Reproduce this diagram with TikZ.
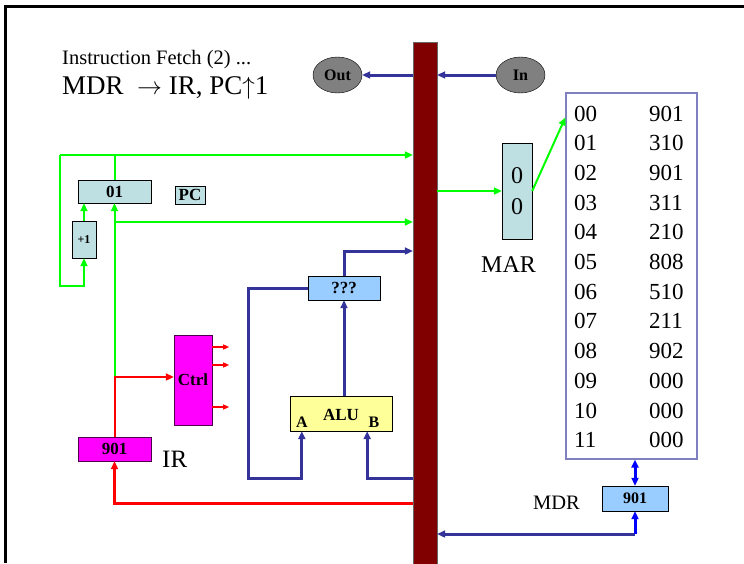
\documentclass[tikz,border=0pt]{standalone}
\usepackage{fontspec}
\setmainfont{Liberation Serif}
\usetikzlibrary{arrows.meta, positioning, calc, shapes.geometric}
\definecolor{busred}{RGB}{128, 0, 0}
\definecolor{regcyan}{RGB}{190, 224, 226}
\definecolor{regblue}{RGB}{153, 204, 255}
\definecolor{aluyellow}{RGB}{255, 255, 153}
\definecolor{navy}{RGB}{51, 51, 153}
\definecolor{memborder}{RGB}{128, 128, 192}
\definecolor{ctrlpink}{RGB}{255, 0, 255}

\begin{document}
\begin{tikzpicture}[
    x=1pt, y=-1pt,
    >={Triangle[length=8pt, width=7pt]},
    reg/.style={rectangle, draw=black, fill=regcyan, inner sep=0pt, font=\bfseries\fontsize{17}{17}\selectfont},
    bluereg/.style={reg, fill=regblue},
    ctrlbox/.style={reg, fill=ctrlpink, draw=black!70!ctrlpink},
    alubox/.style={rectangle, draw=black, fill=aluyellow, minimum width=102pt, minimum height=35pt},
    io/.style={ellipse, draw=black, fill=gray, minimum width=49pt, minimum height=36pt, inner sep=0pt, font=\bfseries\fontsize{16}{16}\selectfont},
    busbar/.style={rectangle, draw=black!60, fill=busred, minimum width=24pt, minimum height=522pt},
    bigtext/.style={inner sep=0pt, anchor=base west, font=\fontsize{24}{24}\selectfont},
    memtext/.style={inner sep=0pt, anchor=base west, font=\fontsize{23}{23}\selectfont},
    bold/.style={inner sep=0pt, anchor=base, font=\bfseries\fontsize{17}{17}\selectfont},
    gline/.style={draw=green, line width=2pt},
    rline/.style={draw=red, line width=2pt},
    nline/.style={draw=navy, line width=3pt},
    bline/.style={draw=blue, line width=3pt}
]
    \useasboundingbox (0,0) rectangle (744,563);

    % frame
    \draw[line width=3pt] (5.5,563) -- (5.5,6.5) -- (744,6.5);

    % title
    \node[bigtext, font=\fontsize{20.5}{20.5}\selectfont] (title) at (62,64) {Instruction Fetch (2) ...};
    \node[bigtext, font=\fontsize{27}{27}\selectfont] (step) at (62,94) {MDR \ $\rightarrow$ IR, PC$\uparrow$1};

    % bus and i/o
    \node[busbar] (bus) at (425,303) {};
    \node[io] (out) at (337.5,75) {Out};
    \node[io] (in) at (520.5,75) {In};

    % PC side
    \node[reg, minimum width=73pt, minimum height=23pt] (pc) at (114.5,191.5) {01};
    \node[reg, minimum width=30pt, minimum height=18pt] (pclabel) at (190,195) {PC};
    \node[reg, minimum width=24pt, minimum height=37pt, font=\bfseries\fontsize{12}{12}\selectfont] (plus) at (84,239.5) {+1};

    % IR and control
    \node[ctrlbox, minimum width=73pt, minimum height=24pt] (ir) at (114.5,449) {901};
    \node[bigtext, font=\fontsize{25}{25}\selectfont] (irlabel) at (162,467) {IR};
    \node[ctrlbox, minimum width=38pt, minimum height=90pt] (ctrl) at (193,380) {Ctrl};

    % ALU
    \node[bluereg, minimum width=72pt, minimum height=24pt] (qqq) at (344,288) {???};
    \node[alubox] (alu) at (341,413.5) {};
    \node[bold] (alutext) at (341,420) {ALU};
    \node[bold, font=\bfseries\fontsize{16}{16}\selectfont] (alua) at (302,427) {A};
    \node[bold, font=\bfseries\fontsize{16}{16}\selectfont] (alub) at (374,427) {B};

    % MAR, memory, MDR
    \node[reg, minimum width=30pt, minimum height=96pt, font=\fontsize{24}{24}\selectfont, align=center] (mar) at (517,191) {0\\[7pt]0};
    \node[bigtext] (marlabel) at (481,272) {MAR};
    \node[rectangle, draw=memborder, line width=1.2pt, minimum width=131pt, minimum height=366pt] (mem) at (631.5,276) {};
    \foreach \addr/\val [count=\i from 0] in {00/901, 01/310, 02/901, 03/311, 04/210, 05/808, 06/510, 07/211, 08/902, 09/000, 10/000, 11/000}
    {
        \node[memtext] (a\i) at (574,121+29.7*\i) {\addr};
        \node[memtext] (v\i) at (649,121+29.7*\i) {\val};
    }
    \node[bluereg, minimum width=66pt, minimum height=25pt, font=\bfseries\fontsize{16}{16}\selectfont] (mdr) at (635,498.5) {901};
    \node[bigtext, font=\fontsize{20.5}{20.5}\selectfont] (mdrlabel) at (533,509) {MDR};

    % helper points
    \coordinate (gtop) at (60,155);
    \coordinate (gloop) at (60,286);
    \coordinate (gmid) at (114.5,222);
    \coordinate (irsplit) at (114.5,377);
    \coordinate (aloop) at (248,478);
    \coordinate (mdrlow) at (635,534);

    % i/o connections
    \draw[nline, ->] (bus.west |- out) -- (out);
    \draw[nline, ->] (in) -- (bus.east |- in);

    % green paths
    \draw[gline] (pc.north) -- (pc.north |- gtop);
    \draw[gline, ->] (gtop) -- (bus.west |- gtop);
    \draw[gline, ->] (gtop) -- (gloop) -| (plus.south);
    \draw[gline, ->] (plus.north) -- (plus.north |- pc.south);
    \draw[gline, ->] (irsplit) -- (pc.south);
    \draw[gline, ->] (gmid) -- (bus.west |- gmid);
    \draw[gline, ->] (bus.east |- mar) -- (mar.west);
    \draw[gline, ->] (mar.east) -- ([yshift=-25pt]mem.north west);

    % red paths
    \draw[rline, ->] (ir.north) -- (irsplit) -- (ctrl.west |- irsplit);
    \foreach \y in {347, 365, 407}
        \draw[draw=red, line width=1.3pt, -{Triangle[length=6pt, width=5pt]}] (ctrl.east |- 0,\y) -- ++(17,0);
    \draw[rline, line width=3pt, ->] (bus.west |- 0,503) -| (ir.south);

    % ALU paths
    \draw[nline, ->] (alu.north -| qqq.south) -- (qqq.south);
    \draw[nline, ->] (qqq.north) |- (bus.west |- 0,251);
    \draw[nline, ->] (qqq.west) -| (aloop) -| ([xshift=12pt]alu.south west);
    \draw[nline, ->] (bus.west |- aloop) -| ([xshift=-25pt]alu.south east);

    % memory data
    \draw[bline, <->] (mem.south -| mdr) -- (mdr.north);
    \draw[nline, ->] (mdrlow) -- (bus.east |- mdrlow);
    \draw[bline, ->] (mdrlow) -- (mdr.south);

\end{tikzpicture}
\end{document}
